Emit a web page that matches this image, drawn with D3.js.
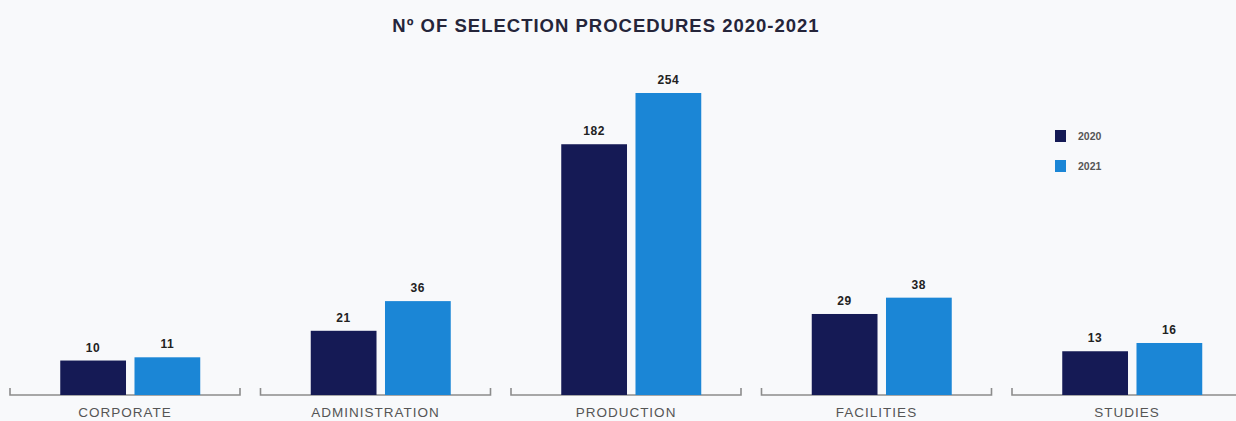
<!DOCTYPE html>
<html>
<head>
<meta charset="utf-8">
<script src="https://cdn.jsdelivr.net/npm/d3@7"></script>
<style>
  html, body { margin: 0; padding: 0; background: #f8f9fb; }
  svg { display: block; }
</style>
</head>
<body>
<svg id="chart" width="1236" height="421"></svg>
<script>
// Selection procedures per area, two years
const categories = ["CORPORATE", "ADMINISTRATION", "PRODUCTION", "FACILITIES", "STUDIES"];
const years = ["2020", "2021"];
const values2020 = [10, 21, 182, 29, 13];
const values2021 = [11, 36, 254, 38, 16];
const colors = ["#151a55", "#1b86d6"];
const title = "Nº OF SELECTION PROCEDURES 2020-2021";

const svg = d3.select("#chart");
const W = 1236, H = 421;
const baseY = 395;

svg.append("rect").attr("width", W).attr("height", H).attr("fill", "#f8f9fb");

// One band per area
const x = d3.scaleBand().domain(categories).range([5, 5 + 250.5 * categories.length]);
// Inner band for the two years inside each area
const xInner = d3.scaleBand().domain(years).range([-70, 70]).paddingInner(8 / 140 * 2);

// Compressed (square-root) value axis so small areas stay readable
const y = d3.scalePow().exponent(0.5).domain([2.3, 254]).range([baseY, 93]);

// Title
svg.append("text")
  .attr("x", 606).attr("y", 32)
  .attr("text-anchor", "middle")
  .attr("font-family", "Liberation Sans, Arial, sans-serif")
  .attr("font-weight", "bold")
  .attr("font-size", 18.5)
  .attr("letter-spacing", 1)
  .attr("fill", "#25253a")
  .text(title);

const groups = svg.selectAll("g.area")
  .data(categories.map((c, i) => ({ cat: c, vals: [values2020[i], values2021[i]] })))
  .join("g")
  .attr("class", "area");

// Baseline bracket under each area
groups.append("path")
  .attr("d", d => {
    const x0 = x(d.cat) + 5, x1 = x(d.cat) + 235;
    return `M${x0},${baseY - 7}V${baseY}H${x1}V${baseY - 7}`;
  })
  .attr("fill", "none")
  .attr("stroke", "#8c8c8c")
  .attr("stroke-width", 1.6);

// Bars
groups.each(function (d) {
  const g = d3.select(this);
  const cx = x(d.cat) + x.bandwidth() / 2;
  years.forEach((yr, j) => {
    const v = d.vals[j];
    g.append("rect")
      .attr("x", cx + xInner(yr))
      .attr("y", y(v))
      .attr("width", xInner.bandwidth())
      .attr("height", baseY - y(v))
      .attr("fill", colors[j]);
    g.append("text")
      .attr("x", cx + xInner(yr) + xInner.bandwidth() / 2)
      .attr("y", y(v) - 9)
      .attr("text-anchor", "middle")
      .attr("font-family", "Liberation Sans, Arial, sans-serif")
      .attr("font-weight", "bold")
      .attr("font-size", 12)
      .attr("letter-spacing", 0.6)
      .attr("fill", "#222")
      .text(v);
  });
  // Area name
  g.append("text")
    .attr("x", x(d.cat) + 120)
    .attr("y", 417)
    .attr("text-anchor", "middle")
    .attr("font-family", "Liberation Sans, Arial, sans-serif")
    .attr("font-size", 13.5)
    .attr("letter-spacing", 1)
    .attr("fill", "#555")
    .text(d.cat);
});

// Legend
const legend = svg.append("g").attr("transform", "translate(1055,130)");
years.forEach((yr, j) => {
  legend.append("rect")
    .attr("x", 0).attr("y", j * 30)
    .attr("width", 11).attr("height", 12)
    .attr("fill", colors[j]);
  legend.append("text")
    .attr("x", 23).attr("y", j * 30 + 10)
    .attr("font-family", "Liberation Sans, Arial, sans-serif")
    .attr("font-weight", "bold")
    .attr("font-size", 10.5)
    .attr("fill", "#555")
    .text(yr);
});
</script>
</body>
</html>
